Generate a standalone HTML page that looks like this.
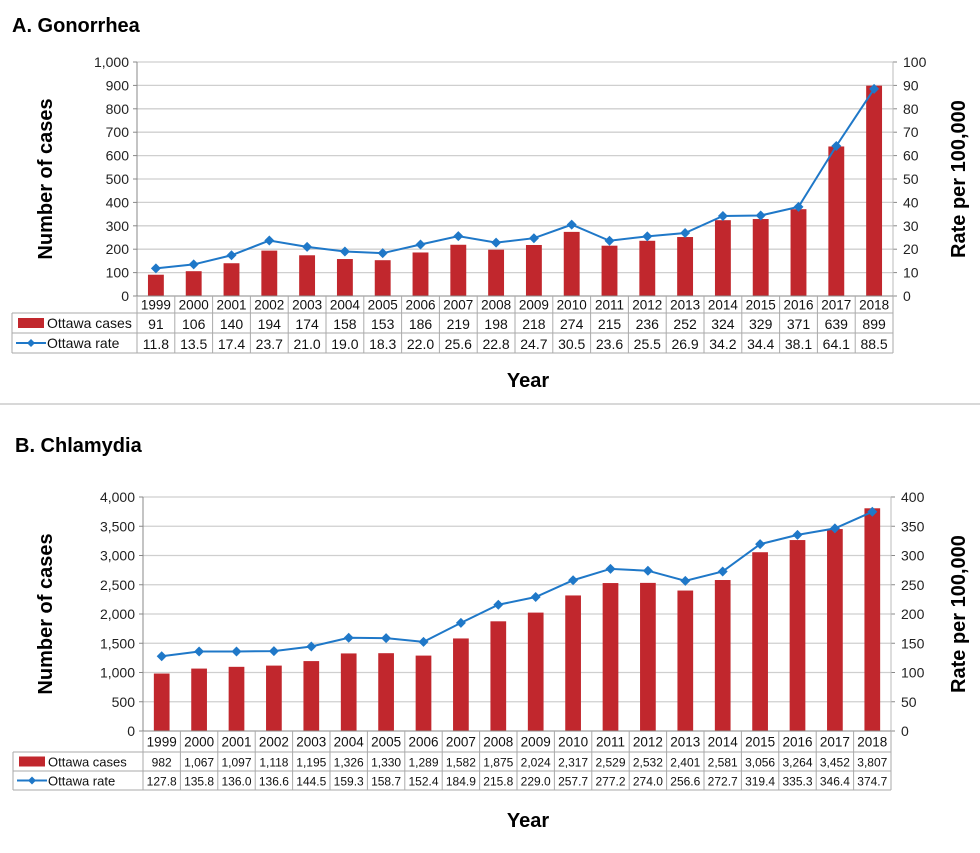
<!DOCTYPE html>
<html><head><meta charset="utf-8"><style>
body{margin:0;background:#fff;width:980px;height:853px;overflow:hidden;font-family:"Liberation Sans",sans-serif}
svg{display:block}
</style></head><body>
<svg id="svg" width="980" height="853" xmlns="http://www.w3.org/2000/svg">
<text x="12" y="32" font-size="20" font-weight="bold">A. Gonorrhea</text>
<line x1="0" y1="404" x2="980" y2="404" stroke="#ccc" stroke-width="1.5"/>
<text x="15" y="452" font-size="20" font-weight="bold">B. Chlamydia</text>
</svg>
<script>
const years=["1999","2000","2001","2002","2003","2004","2005","2006","2007","2008","2009","2010","2011","2012","2013","2014","2015","2016","2017","2018"];
const gonCases=[91,106,140,194,174,158,153,186,219,198,218,274,215,236,252,324,329,371,639,899];
const gonRate=[11.8,13.5,17.4,23.7,21.0,19.0,18.3,22.0,25.6,22.8,24.7,30.5,23.6,25.5,26.9,34.2,34.4,38.1,64.1,88.5];
const chlCases=[982,1067,1097,1118,1195,1326,1330,1289,1582,1875,2024,2317,2529,2532,2401,2581,3056,3264,3452,3807];
const chlRate=[127.8,135.8,136.0,136.6,144.5,159.3,158.7,152.4,184.9,215.8,229.0,257.7,277.2,274.0,256.6,272.7,319.4,335.3,346.4,374.7];
const gonLeftTicks=[0,100,200,300,400,500,600,700,800,900,1000];
const gonRightTicks=[0,10,20,30,40,50,60,70,80,90,100];
const chlLeftTicks=[0,500,1000,1500,2000,2500,3000,3500,4000];
const chlRightTicks=[0,50,100,150,200,250,300,350,400];

const NS="http://www.w3.org/2000/svg";
const svg=document.getElementById('svg');
function mk(tag,attrs,parent){const e=document.createElementNS(NS,tag);for(const k in attrs)e.setAttribute(k,attrs[k]);(parent||svg).appendChild(e);return e;}
function fmt(v){return v.toLocaleString('en-US');}

function drawChart(p,cases,rate,lt,rt,leftMax,rightMax,dec,id){
  const g=mk('g',{});
  
  
  const x0=p.x0,x1=p.x1,yT=p.yT,y0=p.y0,n=years.length,cw=(x1-x0)/n;
  const yL=v=>y0-(v/leftMax)*(y0-yT);
  const yR=v=>y0-(v/rightMax)*(y0-yT);
  const xc=i=>x0+cw*(i+0.5);
  lt.forEach(t=>{
    const y=yL(t);
    if(t>0){const l=mk('line',{x1:x0,x2:x1,y1:y,y2:y,stroke:'#cfcfcf','stroke-width':1.3},g);
      }
    const tx=mk('text',{x:x0-8,y:y+5,'font-size':14,'text-anchor':'end',fill:'#222'},g);
    tx.textContent=fmt(t);
    
    mk('line',{x1:x0-4,x2:x0,y1:y,y2:y,stroke:'#888'},g);
  });
  rt.forEach(t=>{
    const y=yR(t);
    const tx=mk('text',{x:x1+10,y:y+5,'font-size':14,fill:'#222'},g);
    tx.textContent=t;
    
    mk('line',{x1:x1,x2:x1+4,y1:y,y2:y,stroke:'#888'},g);
  });
  mk('line',{x1:x0,x2:x0,y1:yT,y2:y0,stroke:'#888'},g);
  mk('line',{x1:x1,x2:x1,y1:yT,y2:y0,stroke:'#bbb'},g);
  const bw=cw*0.42;
  cases.forEach((v,i)=>{
    const r=mk('rect',{x:xc(i)-bw/2,y:yL(v),width:bw,height:y0-yL(v),fill:'#c1272d'},g);
    
    
  });
  mk('line',{x1:x0,x2:x1,y1:y0,y2:y0,stroke:'#888'},g);
  const pts=rate.map((v,i)=>xc(i)+','+yR(v)).join(' ');
  const pl=mk('polyline',{points:pts,fill:'none',stroke:'#1f78c8','stroke-width':2},g);
  
  rate.forEach((v,i)=>{
    const x=xc(i),y=yR(v);
    const d=mk('polygon',{points:`${x},${y-5} ${x+5},${y} ${x},${y+5} ${x-5},${y}`,fill:'#1f78c8'},g);
    
    
  });
  const r2=p.r2,r3=p.r3,r4=p.r4,tl=p.tl,ls='#aaa';
  for(let i=0;i<=n;i++){const x=x0+cw*i;mk('line',{x1:x,x2:x,y1:y0,y2:r4,stroke:ls},g);}
  mk('line',{x1:tl,x2:tl,y1:r2,y2:r4,stroke:ls},g);
  [r2,r3,r4].forEach(y=>mk('line',{x1:tl,x2:x1,y1:y,y2:y,stroke:ls},g));
  const fs=p.fs;
  years.forEach((yy,i)=>{
    let t=mk('text',{x:xc(i),y:(y0+r2)/2+5,'font-size':13.5,'text-anchor':'middle',fill:'#111'},g);t.textContent=yy;
    
    t=mk('text',{x:xc(i),y:(r2+r3)/2+fs/2-1,'font-size':fs,'text-anchor':'middle',fill:'#111'},g);t.textContent=fmt(cases[i]);
    
    t=mk('text',{x:xc(i),y:(r3+r4)/2+fs/2-1,'font-size':fs,'text-anchor':'middle',fill:'#111'},g);t.textContent=rate[i].toFixed(1);
    
  });
  const lr=mk('rect',{x:tl+6,y:(r2+r3)/2-5,width:26,height:10,fill:'#c1272d'},g);
  
  let t=mk('text',{x:tl+35,y:(r2+r3)/2+5,'font-size':p.lfs,fill:'#111'},g);t.textContent='Ottawa cases';
  
  const ym=(r3+r4)/2;
  mk('line',{x1:tl+4,x2:tl+34,y1:ym,y2:ym,stroke:'#1f78c8','stroke-width':2},g);
  mk('polygon',{points:`${tl+19},${ym-4} ${tl+23},${ym} ${tl+19},${ym+4} ${tl+15},${ym}`,fill:'#1f78c8'},g);
  t=mk('text',{x:tl+35,y:ym+5,'font-size':p.lfs,fill:'#111'},g);t.textContent='Ottawa rate';
  
  const cy=(yT+y0)/2;
  t=mk('text',{x:52,y:cy,'font-size':20,'font-weight':'bold','text-anchor':'middle',transform:`rotate(-90 52 ${cy})`},g);t.textContent='Number of cases';
  
  t=mk('text',{x:965,y:cy,'font-size':20,'font-weight':'bold','text-anchor':'middle',transform:`rotate(-90 965 ${cy})`},g);t.textContent='Rate per 100,000';
  
  t=mk('text',{x:528,y:p.yt,'font-size':20,'font-weight':'bold','text-anchor':'middle'},g);t.textContent='Year';
  
}
drawChart({x0:137,x1:893,yT:62,y0:296,r2:313,r3:333,r4:353,tl:12,fs:14,lfs:14,yt:387},gonCases,gonRate,gonLeftTicks,gonRightTicks,1000,100,1,'gonorrhea');
drawChart({x0:143,x1:891,yT:497,y0:731,r2:752,r3:771,r4:790,tl:13,fs:12,lfs:13,yt:827},chlCases,chlRate,chlLeftTicks,chlRightTicks,4000,400,1,'chlamydia');
</script>
</body></html>
